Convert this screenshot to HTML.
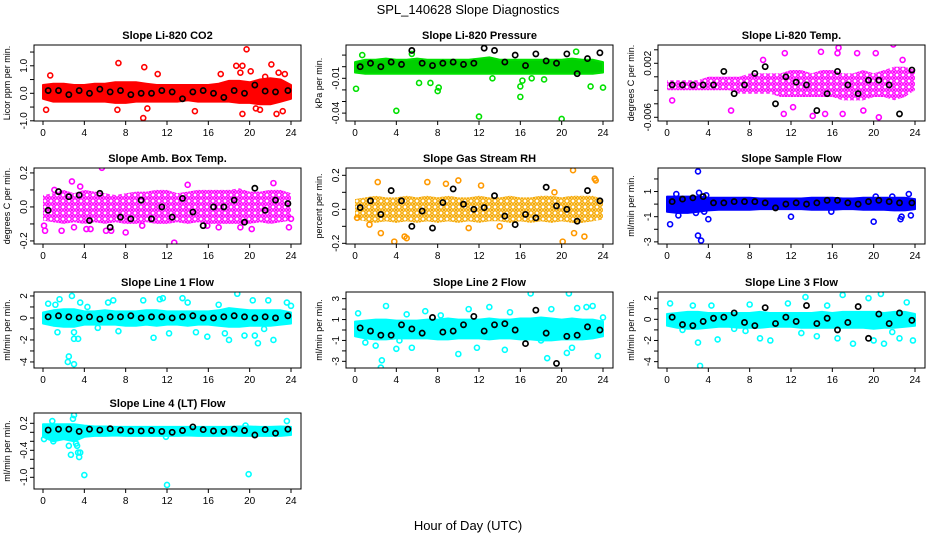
<!DOCTYPE html>
<html><head><meta charset="utf-8">
<style>
html,body{margin:0;padding:0;background:#fff;}
svg{display:block;font-family:"Liberation Sans",Arial,sans-serif;}
</style></head>
<body>
<svg id="chart" width="936" height="540" viewBox="0 0 936 540">
<text x="468" y="14" text-anchor="middle" font-size="13">SPL_140628  Slope Diagnostics</text>
<text x="468" y="530" text-anchor="middle" font-size="13">Hour of Day (UTC)</text>
</svg>
<script>
const blackX = [0.5,1.5,2.5,3.5,4.5,5.5,6.5,7.5,8.5,9.5,10.5,11.5,12.5,13.5,14.5,15.5,16.5,17.5,18.5,19.5,20.5,21.5,22.5,23.7];
const bandX = [0,1,2,3,4,5,6,7,8,9,10,11,12,13,14,15,16,17,18,19,20,21,22,23,24];
const xTicks = [0,4,8,12,16,20,24];

// CO2
const co2Hi = [0.3,0.35,0.35,0.3,0.3,0.35,0.35,0.4,0.4,0.4,0.35,0.3,0.3,0.3,0.3,0.3,0.3,0.35,0.45,0.45,0.4,0.5,0.55,0.5,0.3];
const co2Lo = [-0.2,-0.3,-0.3,-0.3,-0.3,-0.3,-0.3,-0.35,-0.35,-0.3,-0.3,-0.3,-0.3,-0.3,-0.25,-0.3,-0.3,-0.3,-0.3,-0.35,-0.35,-0.4,-0.4,-0.3,-0.2];
const co2OutX = [0.3,0.7,7.3,7.2,9.7,9.8,10.1,11.1,14.7,18.7,19.1,19.3,19.3,19.7,20.1,20.6,21.0,22.1,22.6,23.2,23.4,22.8,21.5,17.2];
const co2OutY = [-0.6,0.65,1.1,-0.6,-0.9,0.95,-0.55,0.7,-0.65,1.0,0.75,1.0,-0.75,1.6,0.8,-0.55,-0.6,1.05,-0.75,-0.65,0.7,0.75,0.6,0.7];
const co2Black = [0.1,0.1,-0.05,0.1,0.0,0.15,0.05,0.1,-0.05,0.0,0.0,0.1,0.05,-0.2,0.05,0.1,0.0,-0.15,0.1,0.0,0.3,0.08,0.05,0.1];

// Pressure
const prHi = [0.004,0.006,0.006,0.007,0.006,0.006,0.007,0.006,0.006,0.006,0.006,0.006,0.007,0.008,0.006,0.006,0.006,0.006,0.006,0.006,0.006,0.007,0.006,0.006,0.004];
const prLo = [-0.005,-0.006,-0.006,-0.006,-0.006,-0.006,-0.006,-0.006,-0.006,-0.006,-0.006,-0.006,-0.006,-0.006,-0.006,-0.006,-0.006,-0.006,-0.006,-0.006,-0.006,-0.006,-0.006,-0.006,-0.005];
const prOutX = [0.1,4.0,8.0,8.1,12.0,16.0,16.0,16.2,20.0,22.8,24.0,0.7,5.5,6.2,7.3,21.4,17.1,18.3,13.3];
const prOutY = [-0.019,-0.038,-0.021,-0.018,-0.043,-0.017,-0.026,-0.012,-0.045,-0.017,-0.018,0.01,0.011,-0.014,-0.014,0.013,-0.01,-0.011,-0.01];
const prBlack = [0.0,0.003,0.0,0.004,0.002,0.014,0.003,0.001,0.003,0.004,0.002,0.003,0.016,0.014,0.004,0.010,0.001,0.011,0.005,0.003,0.011,-0.006,0.007,0.012];

// Li-820 Temp
const tmHi = [-0.0005,-0.0005,-0.0005,-0.0005,0.0,0.0,0.0,0.0,0.0005,0.0005,0.0005,0.0005,0.001,0.001,0.0005,0.001,0.001,0.0005,0.0005,0.001,0.0005,0.001,0.0015,0.0015,0.001];
const tmLo = [-0.002,-0.002,-0.002,-0.002,-0.002,-0.002,-0.002,-0.0025,-0.0025,-0.0025,-0.0025,-0.003,-0.003,-0.003,-0.003,-0.003,-0.003,-0.0035,-0.0035,-0.0035,-0.003,-0.003,-0.0035,-0.003,-0.002];
const tmOutX = [0.5,6.2,9.3,11.3,11.4,13.0,14.1,15.3,14.9,16.6,17.0,18.4,19.0,20.2,21.9,22.8,20.5,12.2,16.5];
const tmOutY = [-0.0035,-0.005,0.0025,-0.0055,0.0035,0.0062,-0.0058,-0.0055,0.0037,0.0043,-0.0055,0.0035,-0.005,0.0035,0.0048,0.0025,-0.006,-0.0045,0.0035];
const tmBlack = [-0.0012,-0.0012,-0.0012,-0.0012,-0.0012,0.0008,-0.0025,-0.0012,0.0005,0.0015,-0.004,0.0,-0.0008,-0.0012,-0.005,-0.0025,0.0008,-0.0012,-0.0025,-0.0005,-0.0005,-0.0012,-0.0055,0.001];

// Amb box temp
const abHi = [0.07,0.08,0.1,0.08,0.1,0.09,0.08,0.07,0.08,0.09,0.09,0.1,0.1,0.08,0.09,0.1,0.1,0.1,0.1,0.11,0.09,0.09,0.1,0.1,0.08];
const abLo = [-0.08,-0.09,-0.1,-0.09,-0.1,-0.09,-0.1,-0.09,-0.1,-0.1,-0.09,-0.1,-0.1,-0.09,-0.1,-0.09,-0.1,-0.1,-0.1,-0.1,-0.1,-0.09,-0.1,-0.09,-0.08];
const abOutX = [0.1,0.2,1.8,2.8,3.0,4.2,4.6,5.7,6.1,6.6,8.0,9.6,12.7,14.0,15.9,17.0,19.1,20.2,22.3,23.8,24.0,3.6,1.1];
const abOutY = [-0.11,-0.14,-0.14,0.15,-0.12,-0.13,-0.13,0.23,-0.14,-0.14,-0.15,-0.11,-0.21,0.13,-0.11,-0.12,-0.12,-0.13,0.14,-0.12,-0.07,0.12,0.1];
const abBlack = [-0.02,0.09,0.06,0.07,-0.08,0.08,-0.12,-0.06,-0.07,0.04,-0.07,0.0,-0.06,0.05,-0.03,-0.11,0.0,0.0,0.04,-0.09,0.11,-0.02,0.04,0.02];

// Gas stream RH
const rhHi = [0.06,0.07,0.08,0.07,0.07,0.08,0.07,0.08,0.07,0.08,0.07,0.07,0.08,0.07,0.07,0.08,0.07,0.07,0.08,0.08,0.07,0.08,0.08,0.08,0.06];
const rhLo = [-0.06,-0.07,-0.08,-0.07,-0.08,-0.07,-0.08,-0.07,-0.08,-0.07,-0.08,-0.07,-0.08,-0.07,-0.07,-0.08,-0.07,-0.08,-0.07,-0.08,-0.07,-0.08,-0.08,-0.07,-0.06];
const rhOutX = [1.4,2.2,2.5,3.8,4.8,5.0,7.0,8.8,10.0,12.2,14.0,19.3,20.1,21.1,21.2,22.2,23.2,23.3,0.2,11.0];
const rhOutY = [-0.09,0.16,-0.14,-0.19,-0.16,-0.17,0.16,0.15,0.17,0.14,-0.1,0.1,-0.19,0.23,-0.14,-0.16,0.18,0.17,-0.05,-0.11];
const rhBlack = [0.01,0.05,-0.03,0.11,0.05,-0.1,-0.01,-0.11,0.04,0.12,0.03,0.0,0.01,0.08,-0.04,-0.09,-0.03,-0.05,0.13,0.02,0.0,-0.07,0.11,0.05];

// Sample flow
const sfHi = [0.6,0.6,0.6,0.6,0.5,0.5,0.5,0.5,0.5,0.45,0.45,0.45,0.45,0.45,0.5,0.5,0.5,0.45,0.45,0.5,0.5,0.5,0.5,0.5,0.4];
const sfLo = [-0.6,-0.7,-0.7,-0.6,-0.5,-0.45,-0.45,-0.45,-0.45,-0.4,-0.4,-0.4,-0.4,-0.4,-0.45,-0.45,-0.45,-0.4,-0.4,-0.45,-0.45,-0.45,-0.5,-0.5,-0.4];
const sfOutX = [0.3,0.9,1.1,2.8,3.0,3.0,3.1,3.3,3.6,3.8,4.0,12.0,15.9,20.0,22.6,22.7,23.4,23.6,20.2,21.8];
const sfOutY = [-1.6,0.8,-0.9,-0.7,2.6,-2.5,0.9,-2.9,-0.6,0.7,-1.2,-1.0,-0.6,-1.4,-1.2,-1.0,0.8,-0.9,0.6,0.6];
const sfBlack = [0.2,0.4,0.5,0.6,0.1,0.1,0.2,0.2,0.2,0.1,-0.3,0.0,0.1,0.0,0.1,0.3,0.3,0.1,0.0,0.2,0.3,0.2,0.1,0.1];

// Line 1 flow
const l1Hi = [0.5,0.7,0.8,0.8,0.6,0.6,0.7,0.6,0.6,0.6,0.7,0.7,0.6,0.6,0.6,0.6,0.6,0.7,0.9,0.8,0.7,0.7,0.7,0.7,0.5];
const l1Lo = [-0.5,-0.7,-0.8,-0.8,-0.6,-0.6,-0.6,-0.6,-0.7,-0.7,-0.6,-0.7,-0.6,-0.6,-0.7,-0.6,-0.6,-0.7,-0.8,-0.8,-0.7,-0.7,-0.7,-0.6,-0.5];
const l1OutX = [0.5,1.2,1.6,1.4,2.5,2.4,3.0,2.8,3.0,3.0,3.4,3.6,4.3,5.3,6.3,6.8,7.3,9.7,10.7,11.3,11.6,12.2,13.5,14.0,14.8,15.9,17.0,17.6,18.0,18.8,19.5,20.3,20.5,20.8,21.4,21.8,22.3,23.6,24.0];
const l1OutY = [1.3,1.2,1.7,-1.3,-3.5,-4.0,-4.2,2.0,-1.3,-1.9,-1.9,1.4,1.0,-0.9,1.4,1.6,-1.2,1.6,-1.8,1.7,1.8,-1.4,1.8,1.4,-1.3,-1.7,1.2,-1.4,-2.0,2.2,-1.6,1.6,-1.6,-2.3,-1.0,1.6,-2.0,1.4,1.1];
const l1Black = [0.1,0.2,0.1,0.0,0.1,-0.1,0.1,0.1,0.2,0.0,0.1,0.1,0.0,0.1,0.2,0.0,0.0,0.1,0.2,0.1,0.0,0.1,0.0,0.2];

// Line 2 flow
const l2Hi = [0.8,0.9,1.0,1.0,0.9,0.9,0.9,1.0,1.0,1.1,1.0,1.0,1.0,1.1,1.0,1.0,1.1,1.1,1.2,1.1,1.0,1.1,1.0,1.0,0.8];
const l2Lo = [-0.6,-0.8,-0.9,-0.9,-0.8,-0.8,-0.8,-0.8,-0.9,-0.9,-0.8,-0.8,-0.8,-0.9,-0.8,-0.8,-0.9,-0.9,-1.0,-1.0,-0.9,-0.9,-0.9,-0.8,-0.6];
const l2OutX = [0.3,1.0,2.0,2.5,2.6,3.0,4.0,4.3,5.0,5.5,6.8,8.3,10.0,11.0,11.8,13.0,14.5,15.0,17.0,18.0,18.6,19.0,20.7,21.0,21.5,22.4,23.0,23.5,24.0,20.5];
const l2OutY = [1.6,-1.2,-1.5,-3.6,-2.9,2.3,-1.8,-1.0,1.5,-1.7,1.8,1.4,-2.3,2.0,-1.7,2.2,-1.9,1.7,3.5,-1.0,-2.7,2.0,3.5,-1.7,2.1,2.2,2.3,-2.5,1.2,-2.2];
const l2Black = [0.2,-0.1,-0.5,-0.5,0.5,0.1,-0.3,1.2,-0.2,-0.1,0.5,1.3,-0.1,0.5,0.6,0.0,-1.3,1.9,-0.3,-3.2,-0.6,-0.5,0.3,0.0];

// Line 3 flow
const l3Hi = [0.5,0.6,0.7,0.7,0.6,0.6,0.6,0.6,0.6,0.7,0.6,0.6,0.6,0.6,0.6,0.7,0.6,0.7,0.7,0.7,0.7,0.6,0.7,0.7,0.5];
const l3Lo = [-0.6,-0.8,-0.9,-0.9,-0.8,-0.7,-0.7,-0.8,-0.8,-0.8,-0.7,-0.7,-0.7,-0.8,-0.8,-0.8,-0.8,-0.8,-0.8,-0.8,-0.9,-0.8,-0.8,-0.7,-0.6];
const l3OutX = [0.3,1.5,2.5,3.0,3.2,4.3,4.9,6.5,7.6,8.0,9.0,10.0,11.7,13.0,13.4,15.5,16.5,17.0,18.0,19.5,20.0,20.7,21.0,21.8,22.5,23.2,23.8,14.5];
const l3OutY = [1.5,-1.0,1.3,-2.2,-4.4,1.3,-1.9,-0.9,-1.1,1.4,-1.8,-2.0,1.5,-1.3,2.1,1.3,-1.8,2.3,-2.3,2.0,-2.0,2.4,-2.3,-1.2,-1.8,1.6,-2.0,-1.6];
const l3Black = [0.2,-0.5,-0.6,-0.2,0.1,0.2,0.6,-0.3,-0.6,1.1,-0.4,0.2,-0.2,1.3,-0.4,0.1,-1.0,-0.3,1.2,-1.8,0.5,-0.4,0.6,-0.1];

// Line 4 flow
const l4Hi = [0.18,0.18,0.18,0.18,0.15,0.13,0.13,0.12,0.12,0.12,0.12,0.12,0.12,0.12,0.12,0.12,0.12,0.12,0.12,0.13,0.13,0.12,0.12,0.13,0.12];
const l4Lo = [-0.1,-0.2,-0.15,-0.2,-0.1,-0.08,-0.08,-0.07,-0.08,-0.08,-0.08,-0.08,-0.08,-0.08,-0.07,-0.08,-0.08,-0.08,-0.07,-0.08,-0.08,-0.08,-0.08,-0.08,-0.06];
const l4OutX = [0.1,0.9,1.0,2.5,2.7,2.9,3.0,3.2,3.3,3.4,3.5,3.6,4.0,12.0,19.9,23.6,19.6,11.9];
const l4OutY = [-0.15,0.25,-0.2,-0.3,-0.5,0.3,0.38,-0.25,-0.3,-0.45,-0.55,-0.45,-0.95,-1.17,-0.93,0.25,0.15,-0.1];
const l4Black = [0.05,0.07,0.07,0.02,0.07,0.05,0.08,0.05,0.03,0.03,0.04,0.02,0.0,0.04,0.12,0.06,0.03,0.02,0.07,0.04,-0.06,0.06,-0.02,0.07];

const panels = [
 {name:'co2',title:'Slope Li-820 CO2',ylab:'Licor ppm per min.',col:0,row:0,ymin:-1.007,ymax:1.756,color:'#ff0000',band:'#ff0000',sparse:false,hi:co2Hi,lo:co2Lo,ox:co2OutX,oy:co2OutY,blk:co2Black,ticks:[-1,-0.5,0,0.5,1,1.5],labels:['-1.0','','0.0','','1.0','']},
 {name:'pressure',title:'Slope Li-820 Pressure',ylab:'kPa per min.',col:1,row:0,ymin:-0.0468,ymax:0.0187,color:'#00e000',band:'#00d000',sparse:false,hi:prHi,lo:prLo,ox:prOutX,oy:prOutY,blk:prBlack,ticks:[-0.04,-0.03,-0.02,-0.01,0,0.01],labels:['-0.04','','','-0.01','','']},
 {name:'li820-temp',title:'Slope Li-820 Temp.',ylab:'degrees C per min.',col:2,row:0,ymin:-0.00655,ymax:0.00471,color:'#ff00ff',band:'#ff00ff',sparse:true,hi:tmHi,lo:tmLo,ox:tmOutX,oy:tmOutY,blk:tmBlack,ticks:[-0.006,-0.004,-0.002,0,0.002,0.004],labels:['-0.006','','','','0.002','']},
 {name:'amb-box-temp',title:'Slope Amb. Box Temp.',ylab:'degrees C per min.',col:0,row:1,ymin:-0.218,ymax:0.229,color:'#ff00ff',band:'#ff00ff',sparse:true,hi:abHi,lo:abLo,ox:abOutX,oy:abOutY,blk:abBlack,ticks:[-0.2,-0.1,0,0.1,0.2],labels:['-0.2','','0.0','','0.2']},
 {name:'gas-stream-rh',title:'Slope Gas Stream RH',ylab:'percent per min.',col:1,row:1,ymin:-0.204,ymax:0.243,color:'#ff9900',band:'#f5a800',sparse:true,hi:rhHi,lo:rhLo,ox:rhOutX,oy:rhOutY,blk:rhBlack,ticks:[-0.2,-0.1,0,0.1,0.2],labels:['-0.2','','0.0','','0.2']},
 {name:'sample-flow',title:'Slope Sample Flow',ylab:'ml/min per min.',col:2,row:1,ymin:-3.17,ymax:2.87,color:'#0000ff',band:'#0000ff',sparse:false,hi:sfHi,lo:sfLo,ox:sfOutX,oy:sfOutY,blk:sfBlack,ticks:[-3,-2,-1,0,1,2],labels:['-3','','-1','','1','']},
 {name:'line1-flow',title:'Slope Line 1 Flow',ylab:'ml/min per min.',col:0,row:2,ymin:-4.55,ymax:2.36,color:'#00ffff',band:'#00ffff',sparse:false,hi:l1Hi,lo:l1Lo,ox:l1OutX,oy:l1OutY,blk:l1Black,ticks:[-4,-3,-2,-1,0,1,2],labels:['-4','','-2','','0','','2']},
 {name:'line2-flow',title:'Slope Line 2 Flow',ylab:'ml/min per min.',col:1,row:2,ymin:-3.64,ymax:3.64,color:'#00ffff',band:'#00ffff',sparse:false,hi:l2Hi,lo:l2Lo,ox:l2OutX,oy:l2OutY,blk:l2Black,ticks:[-3,-2,-1,0,1,2,3],labels:['-3','','-1','','1','','3']},
 {name:'line3-flow',title:'Slope Line 3 Flow',ylab:'ml/min per min.',col:2,row:2,ymin:-4.6,ymax:2.58,color:'#00ffff',band:'#00ffff',sparse:false,hi:l3Hi,lo:l3Lo,ox:l3OutX,oy:l3OutY,blk:l3Black,ticks:[-4,-3,-2,-1,0,1,2],labels:['-4','','-2','','0','','2']},
 {name:'line4-flow',title:'Slope Line 4 (LT) Flow',ylab:'ml/min per min.',col:0,row:3,ymin:-1.26,ymax:0.429,color:'#00ffff',band:'#00ffff',sparse:false,hi:l4Hi,lo:l4Lo,ox:l4OutX,oy:l4OutY,blk:l4Black,ticks:[-1,-0.8,-0.6,-0.4,-0.2,0,0.2],labels:['-1.0','','','-0.4','','','0.2']}
];

const NS='http://www.w3.org/2000/svg';
const svg=document.getElementById('chart');
const defs=document.createElementNS(NS,'defs');svg.appendChild(defs);
const rowTops=[45,168,292,413];
function mk(tag,attrs,parent){const e=document.createElementNS(NS,tag);for(const k in attrs)e.setAttribute(k,attrs[k]);parent.appendChild(e);return e;}

panels.forEach(p=>{
  const x0=43+312*p.col, L=x0-9, W=267, T=rowTops[p.row], H=76, B=T+H;
  const px=h=>x0+h*248/24;
  const py=v=>B-(v-p.ymin)/(p.ymax-p.ymin)*H;
  let fill=p.band;
  if(p.sparse){
    const pat=mk('pattern',{id:'pat-'+p.name,width:6,height:6,patternUnits:'userSpaceOnUse'},defs);
    mk('circle',{cx:3,cy:3,r:2.2,fill:'none',stroke:p.band,'stroke-width':'1.5'},pat);
    mk('circle',{cx:0,cy:0,r:1.2,fill:p.band},pat);
    mk('circle',{cx:6,cy:6,r:1.2,fill:p.band},pat);
    mk('circle',{cx:0,cy:6,r:1.2,fill:p.band},pat);
    mk('circle',{cx:6,cy:0,r:1.2,fill:p.band},pat);
    fill='url(#pat-'+p.name+')';
  }
  const g=mk('g',{},svg);
  
  
  const clip=mk('clipPath',{id:'c-'+p.name},g);
  mk('rect',{x:L,y:T,width:W,height:H},clip);
  const t=mk('text',{x:L+W/2,y:T-6,'text-anchor':'middle','font-size':'11','font-weight':'bold'},g);
  t.textContent=p.title;
  
  
  const yl=mk('text',{x:0,y:0,'text-anchor':'middle','font-size':'9',transform:`translate(${L-24},${T+H/2}) rotate(-90)`},g);
  yl.textContent=p.ylab;
  
  
  const marks=mk('g',{'clip-path':`url(#c-${p.name})`},g);
  let d='';
  bandX.forEach((h,i)=>{d+=(i?'L':'M')+px(h).toFixed(1)+','+py(p.hi[i]).toFixed(1);});
  for(let i=bandX.length-1;i>=0;i--)d+='L'+px(bandX[i]).toFixed(1)+','+py(p.lo[i]).toFixed(1);
  const band=mk('path',{d:d+'Z',fill:fill,stroke:p.sparse?'none':p.color,'stroke-width':'2','stroke-linejoin':'round'},marks);
  
  
  p.ox.forEach((h,i)=>{
    const c=mk('circle',{cx:px(h),cy:py(p.oy[i]),r:2.5,fill:'none',stroke:p.color,'stroke-width':'1.6'},marks);
    
    
  });
  blackX.forEach((h,i)=>{
    const c=mk('circle',{cx:px(h),cy:py(p.blk[i]),r:2.6,fill:'none',stroke:'#000','stroke-width':'1.7'},marks);
    
    
  });
  const box=mk('rect',{x:L,y:T,width:W,height:H,fill:'none',stroke:'#000','stroke-width':'1'},g);
  
  
  xTicks.forEach(h=>{
    mk('line',{x1:px(h),x2:px(h),y1:B,y2:B+4,stroke:'#000'},g);
    const tl=mk('text',{x:px(h),y:B+15,'text-anchor':'middle','font-size':'10'},g);
    tl.textContent=h;
    
    
  });
  p.ticks.forEach((v,i)=>{
    const y=py(v);
    mk('line',{x1:L-4,x2:L,y1:y,y2:y,stroke:'#000'},g);
    if(p.labels[i]){
      const tl=mk('text',{x:0,y:0,'text-anchor':'middle','font-size':'10',transform:`translate(${L-7},${y}) rotate(-90)`},g);
      tl.textContent=p.labels[i];
      
      
    }
  });
});
</script>
</body></html>
